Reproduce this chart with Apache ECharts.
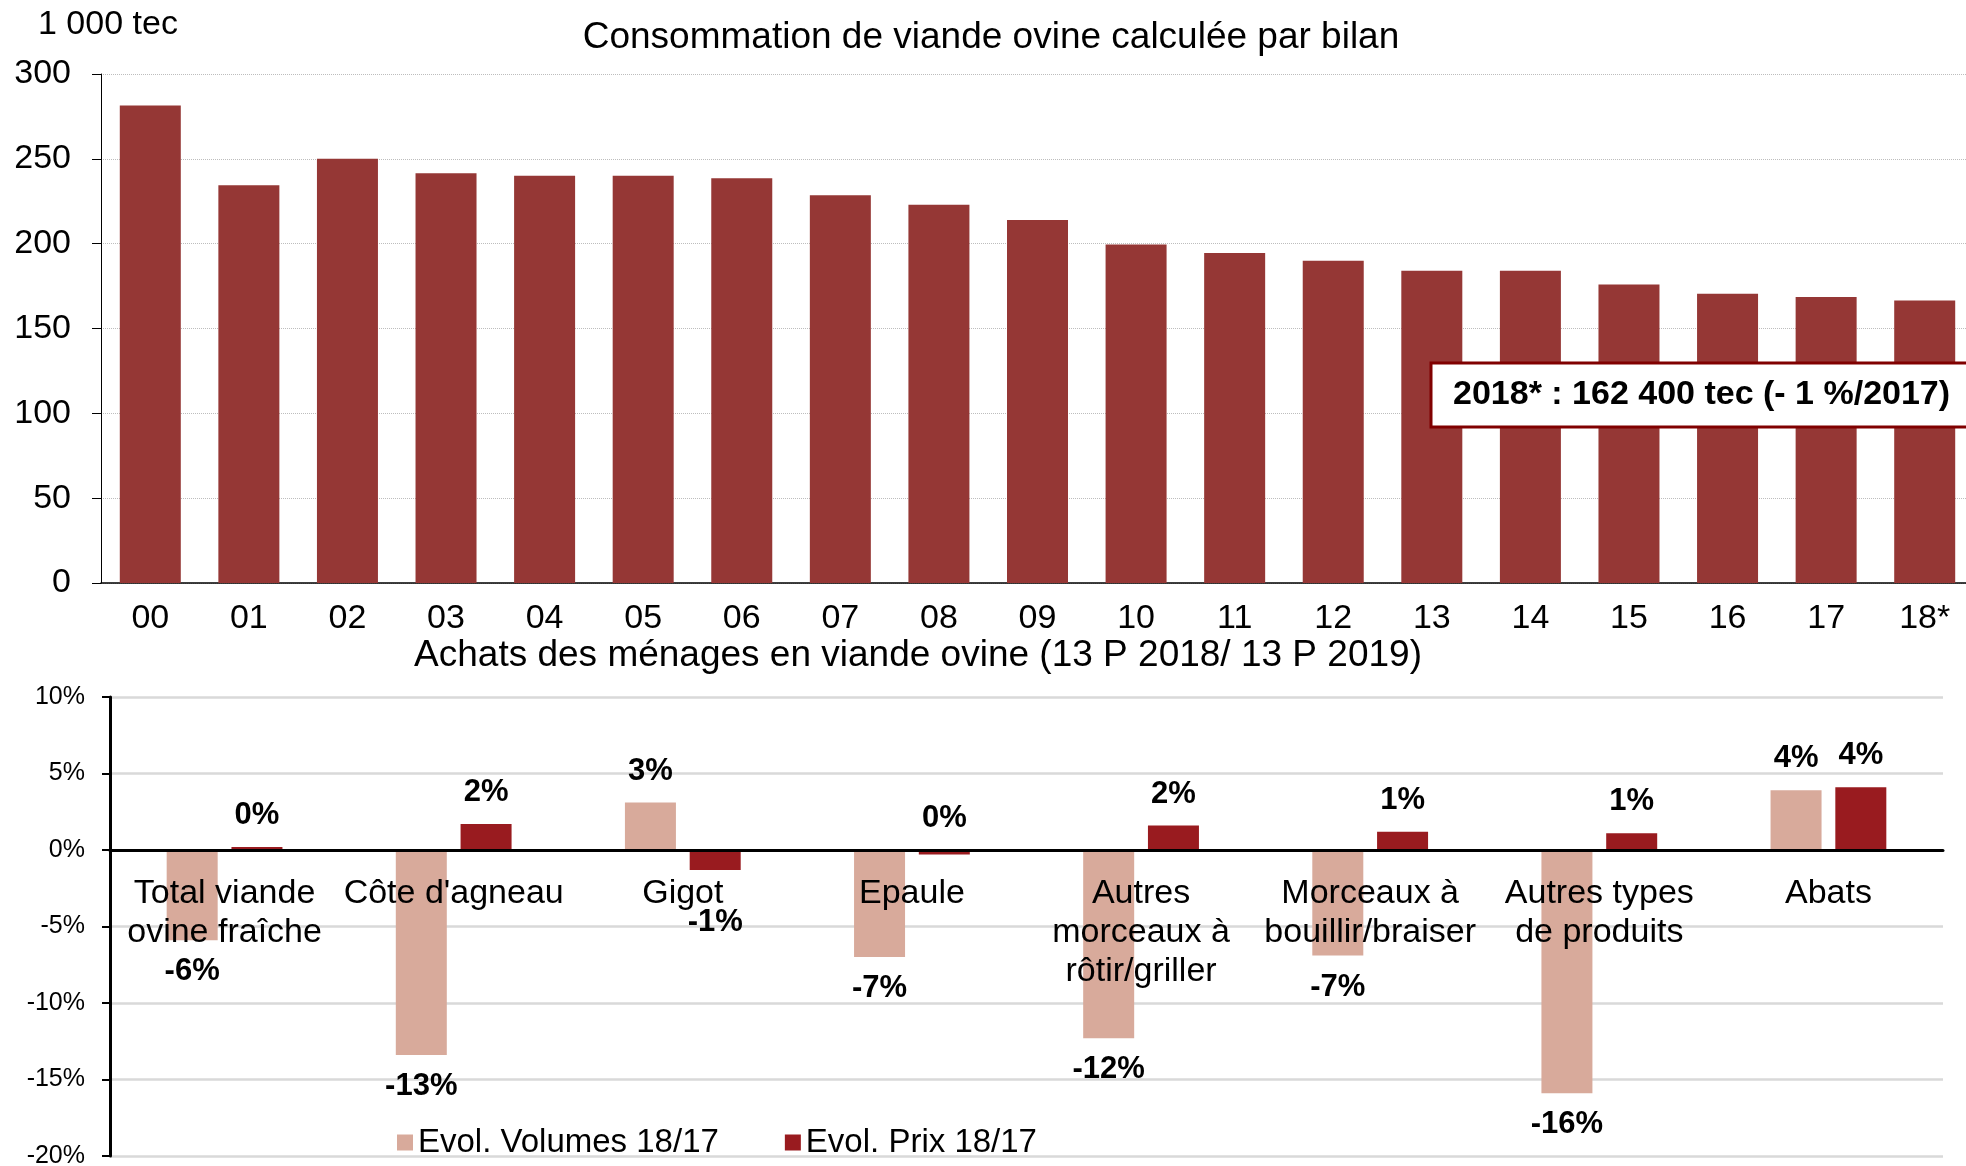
<!DOCTYPE html>
<html>
<head>
<meta charset="utf-8">
<script src="https://cdn.jsdelivr.net/npm/echarts@6/dist/echarts.min.js"></script>
<style>
  html, body { margin: 0; padding: 0; background: #fff; }
  #chart { width: 1966px; height: 1166px; }
</style>
</head>
<body>
<div id="chart"></div>
<script>
// consommation par bilan (1 000 tec)
const years = ['00', '01', '02', '03', '04', '05', '06', '07', '08', '09',
  '10', '11', '12', '13', '14', '15', '16', '17', '18*'];
const consommation = [281.5, 234.5, 250, 241.5, 240, 240, 238.5, 228.5, 223, 214,
  199.5, 194.5, 190, 184, 184, 176, 170.5, 168.5, 166.5];

// achats des ménages, évolution 18/17 (%)
const produits = ['Total viande\novine fraîche', "Côte d'agneau", 'Gigot', 'Epaule',
  'Autres\nmorceaux à\nrôtir/griller', 'Morceaux à\nbouillir/braiser',
  'Autres types\nde produits', 'Abats'];
const evolVolumes = [-5.9, -13.4, 3.1, -7.0, -12.3, -6.9, -15.9, 3.9];
const evolPrix = [0.2, 1.7, -1.3, -0.3, 1.6, 1.2, 1.1, 4.1];

const FONT = 'Liberation Sans, Arial, sans-serif';
const colVolume = '#d8aa9b';
const colPrix = '#991b1f';

const chart = echarts.init(document.getElementById('chart'));

// étiquette au bout de la barre, côté valeur
function barData (values, overrides) {
  return values.map((v, i) => {
    const label = Object.assign({ position: v >= 0 ? 'top' : 'bottom' }, overrides[i] || {});
    return { value: v, label: label };
  });
}

const pctLabel = {
  show: true,
  color: '#000',
  fontFamily: FONT,
  fontSize: 31,
  fontWeight: 'bold',
  distance: 16,
  formatter: p => Math.round(p.value) + '%'
};

const option = {
  animation: false,
  textStyle: { fontFamily: FONT, color: '#000' },
  graphic: [
    {
      type: 'text', x: 991, y: 38,
      style: { text: 'Consommation de viande ovine calculée par bilan', font: '37px ' + FONT,
        fill: '#000', align: 'center', verticalAlign: 'middle', textAlign: 'center', textVerticalAlign: 'middle' }
    },
    {
      type: 'text', x: 38, y: 25,
      style: { text: '1 000 tec', font: '34px ' + FONT, fill: '#000',
        align: 'left', verticalAlign: 'middle', textAlign: 'left', textVerticalAlign: 'middle' }
    },
    {
      type: 'text', x: 918, y: 656,
      style: { text: 'Achats des ménages en viande ovine (13 P 2018/ 13 P 2019)', font: '37px ' + FONT,
        fill: '#000', align: 'center', verticalAlign: 'middle', textAlign: 'center', textVerticalAlign: 'middle' }
    },
    {
      type: 'rect', z: 100,
      shape: { x: 1431, y: 363, width: 560, height: 64 },
      style: { fill: '#fff', stroke: '#800000', lineWidth: 3 }
    },
    {
      type: 'text', z: 101, x: 1453, y: 395,
      style: { text: '2018* : 162 400 tec (- 1 %/2017)', font: 'bold 34px ' + FONT, fill: '#000',
        align: 'left', verticalAlign: 'middle', textAlign: 'left', textVerticalAlign: 'middle' }
    }
  ],
  legend: {
    data: ['Evol. Volumes 18/17', 'Evol. Prix 18/17'],
    left: 397,
    top: 1126,
    padding: 0,
    icon: 'rect',
    itemWidth: 16,
    itemHeight: 16,
    itemGap: 66,
    textStyle: { fontSize: 33, color: '#000', fontFamily: FONT }
  },
  grid: [
    { left: 101, top: 74, width: 1873, height: 509, outerBoundsMode: 'none', containLabel: false },
    { left: 110, top: 697, width: 1833, height: 459, outerBoundsMode: 'none', containLabel: false }
  ],
  xAxis: [
    {
      gridIndex: 0,
      type: 'category',
      data: years,
      axisLine: { lineStyle: { color: '#000', width: 1.5 } },
      axisTick: { length: 10, lineStyle: { color: '#7f7f7f', width: 1.5 } },
      axisLabel: { interval: 0, margin: 19, fontSize: 34, color: '#000' }
    },
    {
      gridIndex: 1,
      type: 'category',
      data: produits,
      z: 5,
      axisLine: { onZero: true, lineStyle: { color: '#000', width: 3 } },
      axisTick: { length: 8, lineStyle: { color: '#000', width: 2 } },
      // libellés remontés sous la ligne du zéro
      axisLabel: { interval: 0, margin: -282, fontSize: 34, lineHeight: 39, color: '#000' }
    }
  ],
  yAxis: [
    {
      gridIndex: 0,
      type: 'value',
      min: 0,
      max: 300,
      interval: 50,
      axisLine: { show: true, lineStyle: { color: '#000', width: 1 } },
      axisTick: { show: true, length: 9, lineStyle: { color: '#000' } },
      axisLabel: { margin: 30, fontSize: 34, color: '#000' },
      splitLine: { lineStyle: { color: '#bdbdbd', type: 'dotted', width: 1 } }
    },
    {
      gridIndex: 1,
      type: 'value',
      min: -20,
      max: 10,
      interval: 5,
      axisLine: { show: true, lineStyle: { color: '#000', width: 3 } },
      axisTick: { show: true, length: 8, lineStyle: { color: '#000', width: 2 } },
      axisLabel: { margin: 25, fontSize: 25, color: '#000', formatter: '{value}%' },
      splitLine: { lineStyle: { color: '#d9d9d9', width: 2.5 } }
    }
  ],
  series: [
    {
      name: 'Consommation',
      type: 'bar',
      xAxisIndex: 0,
      yAxisIndex: 0,
      data: consommation,
      barWidth: 61,
      itemStyle: { color: '#953735' }
    },
    {
      name: 'Evol. Volumes 18/17',
      type: 'bar',
      xAxisIndex: 1,
      yAxisIndex: 1,
      data: barData(evolVolumes, {}),
      barWidth: 51,
      barGap: '27%',
      itemStyle: { color: colVolume },
      label: pctLabel
    },
    {
      name: 'Evol. Prix 18/17',
      type: 'bar',
      xAxisIndex: 1,
      yAxisIndex: 1,
      // Gigot : étiquette décalée sous le libellé, Epaule : affichée au-dessus
      data: barData(evolPrix, { 2: { distance: 37 }, 3: { position: 'top' } }),
      barWidth: 51,
      barGap: '27%',
      itemStyle: { color: colPrix },
      label: pctLabel
    }
  ]
};

chart.setOption(option);
</script>
</body>
</html>
